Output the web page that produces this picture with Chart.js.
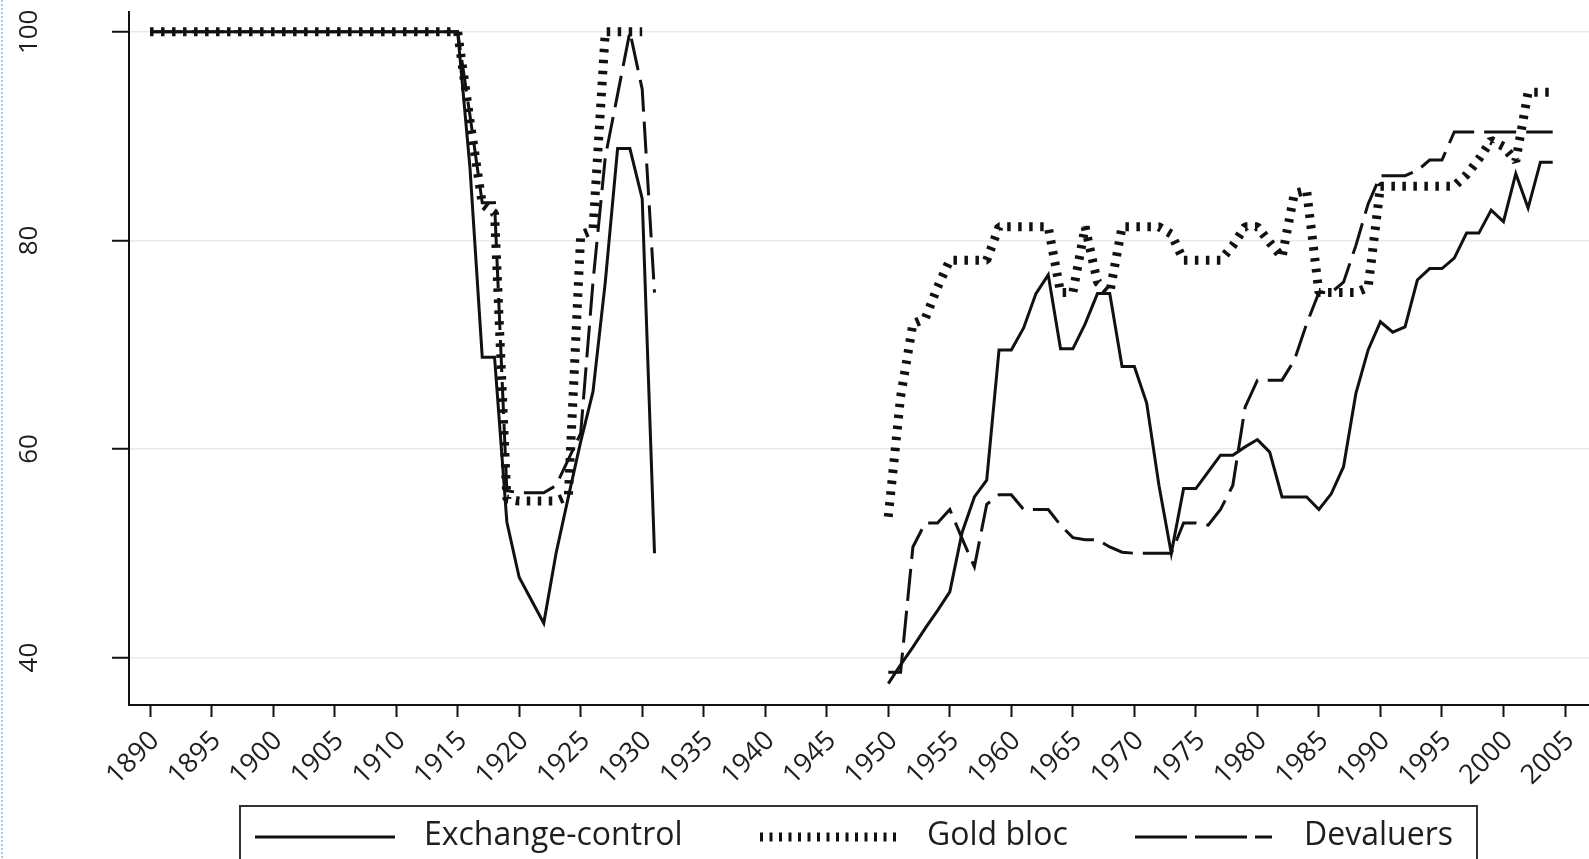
<!DOCTYPE html>
<html>
<head>
<meta charset="utf-8">
<title>Exchange-control, Gold bloc, Devaluers</title>
<script src="https://cdn.jsdelivr.net/npm/chart.js@4.4.1/dist/chart.umd.min.js"></script>
<style>
  html, body { margin: 0; padding: 0; background: #fff; }
  canvas { display: block; }
</style>
</head>
<body>
<canvas id="chart" width="1589" height="859"></canvas>
<script>
// DATA (one value per year, 1890-2004, null = no data)
const years = [];
for (let yr = 1890; yr <= 2004; yr++) years.push(yr);

const seriesNames = ["Exchange-control", "Gold bloc", "Devaluers"];

const exchangeControl = [
  100, 100, 100, 100, 100, 100, 100, 100, 100, 100,          // 1890s
  100, 100, 100, 100, 100, 100, 100, 100, 100, 100,          // 1900s
  100, 100, 100, 100, 100, 100, 87, 68.8, 68.8, 53,          // 1910s
  47.7, 45.5, 43.3, 50, 55.4, 60.7, 65.5, 76, 88.8, 88.8,    // 1920s
  84, 50, null, null, null, null, null, null, null, null,    // 1930s
  null, null, null, null, null, null, null, null, null, null,// 1940s
  37.5, 39.3, 41, 42.8, 44.5, 46.3, 52, 55.4, 57, 69.5,      // 1950s
  69.5, 71.6, 74.9, 76.7, 69.6, 69.6, 72, 74.9, 74.9, 67.9,  // 1960s
  67.9, 64.4, 56.5, 50, 56.2, 56.2, 57.8, 59.4, 59.4, 60.2,  // 1970s
  60.9, 59.7, 55.4, 55.4, 55.4, 54.2, 55.7, 58.3, 65.3, 69.5,// 1980s
  72.2, 71.2, 71.7, 76.2, 77.3, 77.3, 78.3, 80.7, 80.7, 82.9,// 1990s
  81.8, 86.4, 83.1, 87.5, 87.5                               // 2000s
];

const goldBloc = [
  100, 100, 100, 100, 100, 100, 100, 100, 100, 100,
  100, 100, 100, 100, 100, 100, 100, 100, 100, 100,
  100, 100, 100, 100, 100, 100, 91.5, 83.5, 82.6, 55.2,
  55, 55, 55, 55, 55.5, 80.5, 81, 100, 100, 100,
  100, null, null, null, null, null, null, null, null, null,
  null, null, null, null, null, null, null, null, null, null,
  53.5, 65, 72, 72.5, 75.5, 78.1, 78.1, 78.1, 78.1, 81.3,
  81.3, 81.3, 81.3, 81.3, 75, 75, 81.3, 76, 75, 81.3,
  81.3, 81.3, 81.3, 80.6, 78.1, 78.1, 78.1, 78.1, 79.5, 81.3,
  81.3, 79.8, 78.4, 84.5, 84.8, 75, 75, 75, 75, 75.5,
  85.2, 85.2, 85.2, 85.2, 85.2, 85.2, 85.2, 86.3, 87.8, 89.6,
  89, 87.6, 94.2, 94.2, 94.2
];

const devaluers = [
  100, 100, 100, 100, 100, 100, 100, 100, 100, 100,
  100, 100, 100, 100, 100, 100, 100, 100, 100, 100,
  100, 100, 100, 100, 100, 100, 92, 83.6, 83.6, 56,
  55.8, 55.8, 55.8, 56.5, 59, 61.5, 76, 88, 94, 100,
  94.5, 75, null, null, null, null, null, null, null, null,
  null, null, null, null, null, null, null, null, null, null,
  38.6, 38.6, 50.6, 52.9, 52.9, 54.2, 51.4, 48.7, 54.7, 55.6,
  55.6, 54.2, 54.2, 54.2, 52.7, 51.5, 51.3, 51.3, 50.6, 50.1,
  50, 50, 50, 50, 52.9, 52.9, 52.7, 54.2, 56.5, 64,
  66.6, 66.6, 66.6, 68.5, 72, 75, 75, 76, 79.5, 83.5,
  86.2, 86.2, 86.2, 86.7, 87.7, 87.7, 90.4, 90.4, 90.4, 90.4,
  90.4, 90.4, 90.4, 90.4, 90.4
];

const xTicks = [1890, 1895, 1900, 1905, 1910, 1915, 1920, 1925, 1930, 1935, 1940, 1945,
                1950, 1955, 1960, 1965, 1970, 1975, 1980, 1985, 1990, 1995, 2000, 2005];
const yTicks = [40, 60, 80, 100];

const pairs = vals => years.map((yr, i) => ({ x: yr, y: vals[i] }));

Chart.defaults.font.family = '"Open Sans", sans-serif';
Chart.defaults.color = "#1e1e1e";

// legend box under the plot, plus the faint dotted frame on the left edge
const boxLegend = {
  id: "boxLegend",
  afterDraw(chart) {
    const ctx = chart.ctx;
    ctx.save();
    ctx.strokeStyle = "#a9c9e6";
    ctx.lineWidth = 2;
    ctx.setLineDash([2, 2]);
    ctx.beginPath();
    ctx.moveTo(2, 0);
    ctx.lineTo(2, 859);
    ctx.stroke();

    ctx.setLineDash([]);
    ctx.strokeStyle = "#333";
    ctx.lineWidth = 2;
    ctx.strokeRect(240, 806, 1237, 70);

    const y = 837;
    const items = [
      { x0: 255, x1: 395, tx: 424, w: 3, dash: [] },
      { x0: 760, x1: 897, tx: 927, w: 9, dash: [3, 6.5] },
      { x0: 1135, x1: 1272, tx: 1304, w: 3, dash: [52, 8] }
    ];
    ctx.font = '32px "Open Sans"';
    ctx.fillStyle = "#1e1e1e";
    ctx.textBaseline = "middle";
    items.forEach((it, i) => {
      ctx.strokeStyle = "#111";
      ctx.lineWidth = it.w;
      ctx.setLineDash(it.dash);
      ctx.beginPath();
      ctx.moveTo(it.x0, y);
      ctx.lineTo(it.x1, y);
      ctx.stroke();
      ctx.fillText(seriesNames[i], it.tx, y - 1);
    });
    ctx.restore();
  }
};

new Chart(document.getElementById("chart"), {
  type: "line",
  data: {
    datasets: [
      { label: seriesNames[0], data: pairs(exchangeControl), borderColor: "#111",
        borderWidth: 3, pointRadius: 0, tension: 0, spanGaps: false },
      { label: seriesNames[1], data: pairs(goldBloc), borderColor: "#111",
        borderWidth: 9, borderDash: [3.5, 7.5], borderJoinStyle: "bevel",
        pointRadius: 0, tension: 0, spanGaps: false },
      { label: seriesNames[2], data: pairs(devaluers), borderColor: "#111",
        borderWidth: 3, borderDash: [32, 10], pointRadius: 0, tension: 0, spanGaps: false }
    ]
  },
  options: {
    responsive: false,
    animation: false,
    layout: { padding: { top: 12, left: 0, right: 0, bottom: 0 } },
    plugins: { legend: { display: false }, tooltip: { enabled: false } },
    scales: {
      x: {
        type: "linear",
        min: 1888.29,
        max: 2006.95,
        afterBuildTicks: s => { s.ticks = xTicks.map(v => ({ value: v })); },
        afterFit: s => { s.height = 154; s.paddingLeft = 0; s.paddingRight = 0; },
        border: { display: true, color: "#111", width: 2 },
        grid: { drawOnChartArea: false, tickColor: "#111", tickWidth: 2, tickLength: 12 },
        ticks: { autoSkip: false, minRotation: 45, maxRotation: 45, padding: 8, labelOffset: 5,
                 font: { size: 27 }, callback: v => String(v) }
      },
      y: {
        min: 35.45,
        max: 101.9,
        afterBuildTicks: s => { s.ticks = yTicks.map(v => ({ value: v })); },
        afterFit: s => { s.width = 129; s.paddingTop = 0; s.paddingBottom = 0; },
        border: { display: true, color: "#111", width: 2 },
        grid: { color: "#e4ebef", lineWidth: 1.5, tickColor: "#111", tickWidth: 2, tickLength: 17 },
        ticks: { minRotation: 90, maxRotation: 90, crossAlign: "center", padding: 60,
                 font: { size: 26 }, callback: v => String(v) }
      }
    }
  },
  plugins: [boxLegend]
});
</script>
</body>
</html>
